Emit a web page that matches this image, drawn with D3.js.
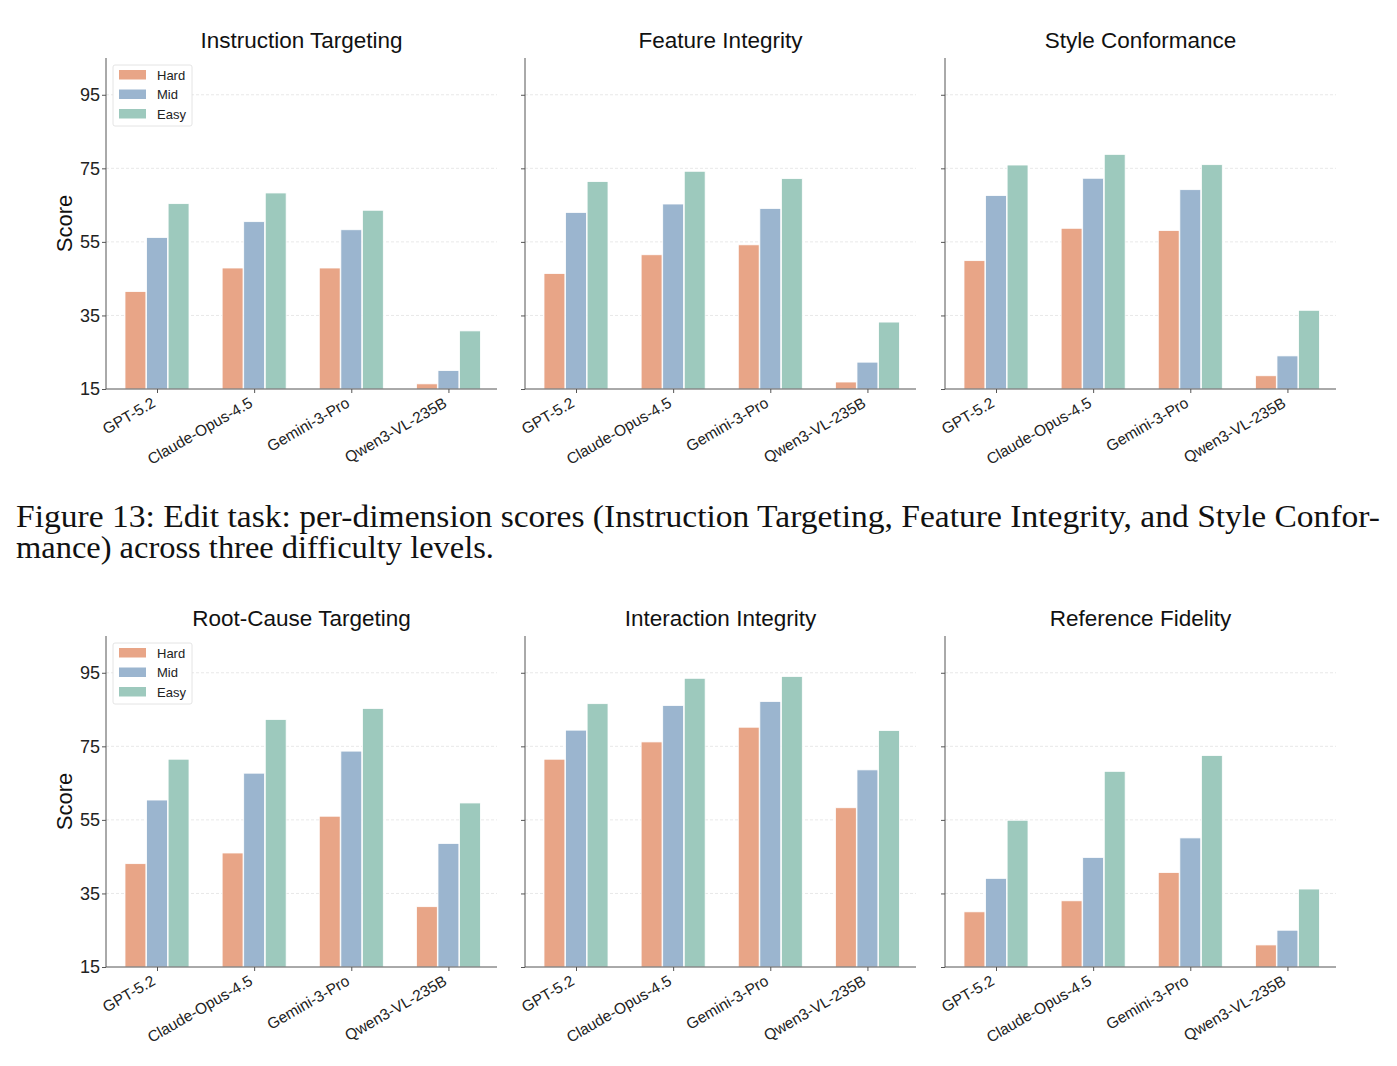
<!DOCTYPE html>
<html><head><meta charset="utf-8">
<script src="https://cdn.jsdelivr.net/npm/d3@7"></script>
<style>body{margin:0;background:#fff}svg{display:block}</style>
</head><body>
<script>
const models = ["GPT-5.2","Claude-Opus-4.5","Gemini-3-Pro","Qwen3-VL-235B"];
const levels = ["Hard","Mid","Easy"];
const colors = ["#E8A587","#9BB5CF","#9DC9BD"];
const yTicks = [15,35,55,75,95];
const titles = ["Instruction Targeting","Feature Integrity","Style Conformance","Root-Cause Targeting","Interaction Integrity","Reference Fidelity"];
// values per panel: [Hard, Mid, Easy] arrays over models
const instructionTargeting = {Hard:[41.5,47.9,47.9,16.4], Mid:[56.2,60.5,58.3,20.0], Easy:[65.4,68.3,63.6,30.8]};
const featureIntegrity     = {Hard:[46.4,51.5,54.2,16.9], Mid:[63.0,65.3,64.1,22.3], Easy:[71.4,74.2,72.2,33.2]};
const styleConformance     = {Hard:[49.9,58.7,58.1,18.6], Mid:[67.6,72.3,69.2,24.0], Easy:[75.9,78.8,76.0,36.4]};
const rootCauseTargeting   = {Hard:[43.1,46.0,56.0,31.4], Mid:[60.4,67.7,73.7,48.6], Easy:[71.5,82.3,85.3,59.6]};
const interactionIntegrity = {Hard:[71.5,76.2,80.2,58.3], Mid:[79.4,86.1,87.2,68.6], Easy:[86.6,93.5,94.0,79.3]};
const referenceFidelity    = {Hard:[30.0,33.0,40.7,21.0], Mid:[39.1,44.8,50.1,25.0], Easy:[54.9,68.2,72.5,36.2]};
const panelData = [instructionTargeting,featureIntegrity,styleConformance,rootCauseTargeting,interactionIntegrity,referenceFidelity];
const captionLines = ["Figure 13: Edit task: per-dimension scores (Instruction Targeting, Feature Integrity, and Style Confor-","mance) across three difficulty levels."];

const W=1397,H=1066;
const svg=d3.select("body").append("svg").attr("width",W).attr("height",H);
const sans="Liberation Sans, Arial, sans-serif";
const lefts=[106,525,945], pw=391;
const tops=[58,636], ph=331;
const barW=0.215, off=0.222;

panelData.forEach((data,pi)=>{
  const col=pi%3,row=Math.floor(pi/3);
  const g=svg.append("g").attr("transform",`translate(${lefts[col]},${tops[row]})`);
  const x=d3.scaleLinear().domain([-0.525,3.5]).range([0,pw]);
  const y=d3.scaleLinear().domain([15,105]).range([ph,0]);
  // grid
  g.selectAll(".grid").data(yTicks.slice(1)).join("line")
    .attr("x1",0).attr("x2",pw).attr("y1",d=>y(d)).attr("y2",d=>y(d))
    .attr("stroke","#e2e2e2").attr("stroke-width",0.8).attr("stroke-dasharray","3,2");
  // bars
  levels.forEach((lv,li)=>{
    g.selectAll(".b"+li).data(data[lv]).join("rect")
      .attr("x",(d,i)=>x(i+(li-1)*off-barW/2))
      .attr("width",x(barW)-x(0))
      .attr("y",d=>y(d)).attr("height",d=>y(15)-y(d))
      .attr("fill",colors[li]).attr("stroke","#fff").attr("stroke-width",0.8);
  });
  // y axis
  const ya=g.append("g").call(d3.axisLeft(y).tickValues(yTicks).tickSize(4).tickPadding(2).tickFormat(col===0?d3.format("d"):()=>""));
  ya.select(".domain").attr("stroke","#555").attr("d",`M0,0V${ph}`);
  ya.selectAll(".tick line").attr("stroke","#555");
  ya.selectAll(".tick text").attr("font-family",sans).attr("font-size",18).attr("fill","#222");
  // x axis
  const xa=g.append("g").attr("transform",`translate(0,${ph})`)
    .call(d3.axisBottom(x).tickValues([0,1,2,3]).tickSize(4).tickFormat(i=>models[i]));
  xa.select(".domain").attr("stroke","#555").attr("d",`M0,0H${pw}`);
  xa.selectAll(".tick line").attr("stroke","#555");
  xa.selectAll(".tick text").attr("font-family",sans).attr("font-size",15.5).attr("fill","#222")
    .attr("text-anchor","end").attr("dy",0).attr("y",0).attr("dx",0)
    .attr("transform","translate(-1,17) rotate(-30)");
  // title
  g.append("text").attr("x",pw/2).attr("y",-10).attr("text-anchor","middle")
    .attr("font-family",sans).attr("font-size",22.5).attr("fill","#111").text(titles[pi]);
  if(col===0){
    g.append("text").attr("transform",`translate(-34,${ph/2}) rotate(-90)`).attr("text-anchor","middle")
      .attr("font-family",sans).attr("font-size",22).attr("fill","#111").text("Score");
    const lg=g.append("g").attr("transform","translate(7,7)");
    lg.append("rect").attr("x",0).attr("y",0).attr("width",79).attr("height",61).attr("rx",2)
      .attr("fill","#fff").attr("stroke","#ddd").attr("stroke-width",0.8);
    levels.forEach((lv,li)=>{
      lg.append("rect").attr("x",6).attr("y",5+li*19.5).attr("width",27).attr("height",9.5).attr("fill",colors[li]);
      lg.append("text").attr("x",44).attr("y",14.5+li*19.5).attr("font-family",sans).attr("font-size",13)
        .attr("fill","#222").text(lv);
    });
  }
});
// caption
const serif="Liberation Serif, serif";
svg.append("text").attr("x",16).attr("y",527).attr("font-family",serif).attr("font-size",30.5)
  .attr("fill","#111").attr("textLength",1364).attr("lengthAdjust","spacingAndGlyphs").text(captionLines[0]);
svg.append("text").attr("x",16).attr("y",558).attr("font-family",serif).attr("font-size",30.5)
  .attr("fill","#111").attr("textLength",478).attr("lengthAdjust","spacingAndGlyphs").text(captionLines[1]);
</script>
</body></html>
